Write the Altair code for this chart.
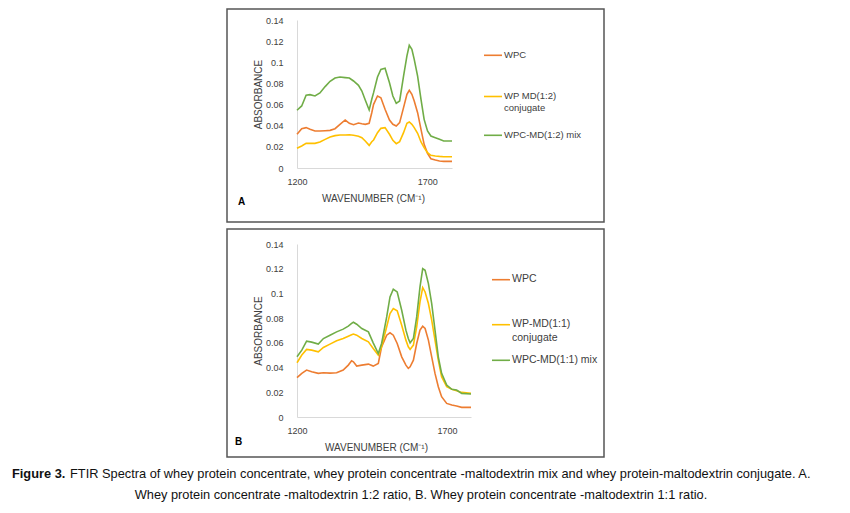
import altair as alt
import pandas as pd

# ---------------- data ----------------
COLORS = ["#ED7D31", "#FFC000", "#70AD47"]

A_SERIES = ["WPC", "WP MD(1:2) conjugate", "WPC-MD(1:2) mix"]
A_LEGEND = [["WPC"], ["WP MD(1:2)", "conjugate"], ["WPC-MD(1:2) mix"]]
A_WAVENUMBER = [1200, 1218, 1235, 1250, 1269, 1288, 1308, 1327, 1346, 1365,
                1385, 1401, 1417, 1436, 1449, 1462, 1477, 1487, 1494, 1509,
                1522, 1538, 1555, 1568, 1581, 1594, 1609, 1622, 1631, 1641,
                1650, 1663, 1676, 1688, 1701, 1714, 1731, 1747, 1763, 1795]
A_WPC = [0.0319, 0.0372, 0.0382, 0.0366, 0.0350, 0.0350, 0.0353, 0.0356, 0.0372, 0.0413,
         0.0454, 0.0423, 0.0410, 0.0426, 0.0419, 0.0413, 0.0423, 0.0523, 0.0602, 0.0681,
         0.0665, 0.0555, 0.0454, 0.0413, 0.0397, 0.0429, 0.0571, 0.0697, 0.0735, 0.0697,
         0.0634, 0.0523, 0.0366, 0.0224, 0.0139, 0.0088, 0.0076, 0.0066, 0.0063, 0.0063]
A_CONJ = [0.0186, 0.0208, 0.0233, 0.0233, 0.0233, 0.0246, 0.0271, 0.0293, 0.0306, 0.0312,
          0.0312, 0.0315, 0.0309, 0.0300, 0.0287, 0.0255, 0.0214, 0.0249, 0.0265, 0.0334,
          0.0375, 0.0382, 0.0319, 0.0262, 0.0230, 0.0249, 0.0334, 0.0423, 0.0435, 0.0413,
          0.0382, 0.0328, 0.0246, 0.0192, 0.0145, 0.0120, 0.0114, 0.0110, 0.0107, 0.0107]
A_MIX = [0.0546, 0.0587, 0.0688, 0.0694, 0.0681, 0.0710, 0.0770, 0.0820, 0.0851, 0.0861,
         0.0855, 0.0851, 0.0823, 0.0782, 0.0728, 0.0643, 0.0549, 0.0650, 0.0713, 0.0861,
         0.0933, 0.0943, 0.0807, 0.0681, 0.0612, 0.0634, 0.0870, 0.1060, 0.1160, 0.1123,
         0.1028, 0.0870, 0.0650, 0.0460, 0.0350, 0.0303, 0.0287, 0.0271, 0.0255, 0.0255]

B_SERIES = ["WPC ", "WP-MD(1:1) conjugate", "WPC-MD(1:1) mix"]
B_LEGEND = [["WPC"], ["WP-MD(1:1)", "conjugate"], ["WPC-MD(1:1) mix"]]
B_WAVENUMBER = [1200, 1216, 1232, 1249, 1271, 1288, 1310, 1332, 1354, 1371,
                1382, 1388, 1399, 1416, 1438, 1454, 1471, 1482, 1499, 1510,
                1521, 1534, 1549, 1563, 1571, 1577, 1588, 1599, 1610, 1619,
                1627, 1638, 1649, 1660, 1671, 1682, 1699, 1716, 1732, 1749, 1780]
B_WPC = [0.0318, 0.0353, 0.0380, 0.0366, 0.0353, 0.0358, 0.0355, 0.0358, 0.0380, 0.0420,
         0.0455, 0.0447, 0.0412, 0.0420, 0.0428, 0.0412, 0.0434, 0.0568, 0.0662, 0.0681,
         0.0662, 0.0595, 0.0487, 0.0420, 0.0393, 0.0406, 0.0460, 0.0595, 0.0703, 0.0735,
         0.0716, 0.0622, 0.0487, 0.0353, 0.0245, 0.0164, 0.0110, 0.0097, 0.0089, 0.0078, 0.0078]
B_CONJ = [0.0439, 0.0501, 0.0547, 0.0541, 0.0528, 0.0563, 0.0590, 0.0617, 0.0635, 0.0654,
          0.0665, 0.0671, 0.0662, 0.0635, 0.0608, 0.0555, 0.0501, 0.0568, 0.0730, 0.0837,
          0.0878, 0.0859, 0.0743, 0.0622, 0.0568, 0.0547, 0.0582, 0.0730, 0.0932, 0.1047,
          0.1012, 0.0918, 0.0784, 0.0622, 0.0460, 0.0326, 0.0245, 0.0224, 0.0213, 0.0199, 0.0191]
B_MIX = [0.0487, 0.0541, 0.0614, 0.0606, 0.0590, 0.0635, 0.0662, 0.0689, 0.0711, 0.0735,
         0.0757, 0.0767, 0.0751, 0.0716, 0.0689, 0.0600, 0.0514, 0.0595, 0.0810, 0.0972,
         0.1034, 0.1012, 0.0864, 0.0703, 0.0635, 0.0600, 0.0635, 0.0810, 0.1053, 0.1201,
         0.1187, 0.1080, 0.0918, 0.0703, 0.0487, 0.0353, 0.0258, 0.0224, 0.0218, 0.0191, 0.0186]

Y_TICKS = [0, 0.02, 0.04, 0.06, 0.08, 0.1, 0.12, 0.14]
X_TICKS = [1200, 1700]
X_TITLE = "WAVENUMBER (CM\u207b\u00b9)"
Y_TITLE = "ABSORBANCE"

CAPTION_BOLD = "Figure 3."
CAPTION_1 = ("FTIR Spectra of whey protein concentrate, whey protein concentrate -maltodextrin "
             "mix and whey protein-maltodextrin conjugate. A.")
CAPTION_2 = ("Whey protein concentrate -maltodextrin 1:2 ratio, B. Whey protein concentrate "
             "-maltodextrin 1:1 ratio.")

FONT = "Liberation Sans"
CAP_FONT = "Liberation Sans"
TXT = "#404040"

ALL_SERIES = A_SERIES + B_SERIES
ALL_COLORS = COLORS + COLORS


def one():
    return alt.Data(values=[{"k": 0}])


def panel(letter, wn, vals, names, legend, width, height, xmax, xtitle_x,
          frame, leg, fs, lh):
    rows = []
    for name, v in zip(names, vals):
        for w, a in zip(wn, v):
            rows.append({"wavenumber": w, "absorbance": a, "series": name})
    df = pd.DataFrame(rows)

    lines = alt.Chart(df).mark_line(strokeWidth=1.6).encode(
        x=alt.X("wavenumber:Q",
                scale=alt.Scale(domain=[1200, xmax], nice=False, zero=False),
                axis=alt.Axis(values=X_TICKS, format="d", title=X_TITLE,
                              titleX=xtitle_x, titleY=30, titleBaseline="middle",
                              labelPadding=9.5, labelFlush=False)),
        y=alt.Y("absorbance:Q",
                scale=alt.Scale(domain=[0, 0.14], nice=False),
                axis=alt.Axis(values=Y_TICKS, format="~g", title=Y_TITLE,
                              titleX=-39, titleY=height / 2, titleBaseline="middle",
                              titleAlign="center", labelPadding=14)),
        color=alt.Color("series:N", scale=alt.Scale(domain=ALL_SERIES, range=ALL_COLORS),
                        legend=None),
    )

    fl, fr, ft, fb = frame
    box = alt.Chart(one()).mark_rect(fillOpacity=0, stroke="#555555", strokeWidth=1.5).encode(
        x=alt.value(fl), x2=alt.value(fr), y=alt.value(ft), y2=alt.value(fb))

    lx1, lx2, tx, ys = leg
    layers = [box, lines]
    for lab, col, yy in zip(legend, COLORS, ys):
        layers.append(alt.Chart(one()).mark_rule(color=col, strokeWidth=1.6).encode(
            x=alt.value(lx1), x2=alt.value(lx2), y=alt.value(yy)))
        layers.append(alt.Chart(one()).mark_text(
            text=lab if len(lab) > 1 else lab[0], align="left", baseline="top",
            font=FONT, fontSize=fs, lineHeight=lh, color=TXT).encode(
            x=alt.value(tx), y=alt.value(yy - fs * 0.55)))
    layers.append(alt.Chart(one()).mark_text(
        text=letter[0], align="left", baseline="middle", font=FONT, fontSize=10,
        fontWeight="bold", color="#000000").encode(
        x=alt.value(letter[1]), y=alt.value(letter[2])))
    return layers


pa = panel(("A", -59, 182), A_WAVENUMBER, [A_WPC, A_CONJ, A_MIX], A_SERIES, A_LEGEND,
           155, 148, 1795, 76, (-70, 307, -11, 202),
           (187, 205, 207, [35.3, 76.5, 115.3]), 9.5, 12)
pb = panel(("B", -62, 198), B_WAVENUMBER, [B_WPC, B_CONJ, B_MIX], B_SERIES, B_LEGEND,
           174, 173, 1780, 79, (-70, 307, -15, 213),
           (195, 213, 215, [35.7, 80.7, 116.3]), 10.5, 14.5)

cap = [
    alt.Chart(one()).mark_text(text=CAPTION_BOLD, align="left", baseline="middle",
                               font=CAP_FONT, fontSize=12.8, fontWeight="bold",
                               color="#111111").encode(x=alt.value(-285), y=alt.value(230)),
    alt.Chart(one()).mark_text(text=CAPTION_1, align="left", baseline="middle",
                               font=CAP_FONT, fontSize=12.8,
                               color="#111111").encode(x=alt.value(-227), y=alt.value(230)),
    alt.Chart(one()).mark_text(text=CAPTION_2, align="center", baseline="middle",
                               font=CAP_FONT, fontSize=12.8,
                               color="#111111").encode(x=alt.value(124), y=alt.value(251)),
]

chart_a = alt.layer(*pa).properties(width=155, height=148)
chart_b = alt.layer(*(pb + cap)).properties(width=174, height=173)

chart = alt.vconcat(chart_a, chart_b, spacing=5).properties(
    padding={"left": 4, "top": 0, "right": 0, "bottom": 0}
).configure_view(strokeWidth=0).configure_axis(
    ticks=False, tickSize=0, grid=False, domainColor="#d9d9d9", domainWidth=1,
    labelFont=FONT, labelFontSize=9, labelColor=TXT,
    titleFont=FONT, titleFontSize=10, titleColor=TXT, titleFontWeight="normal",
)

chart.save("out.html", embed_options={"renderer": "svg", "actions": False})
